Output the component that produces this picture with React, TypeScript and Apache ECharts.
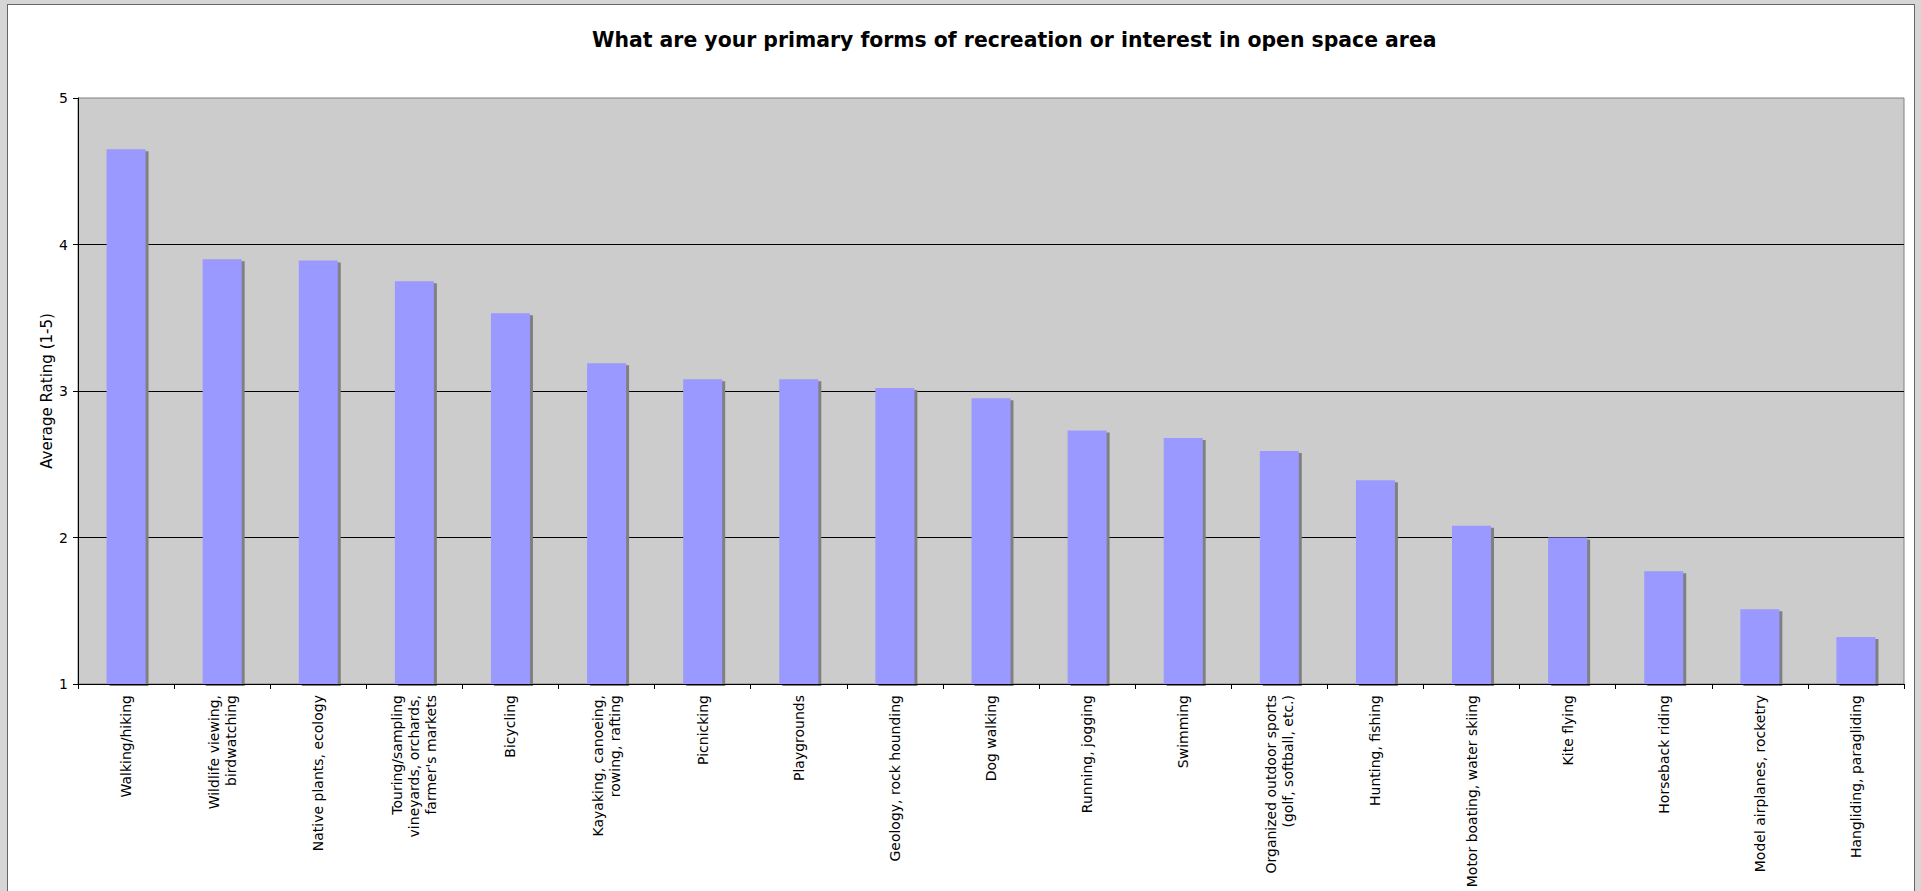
import React, { useEffect, useRef } from 'react';
import * as echarts from 'echarts';

const titleText = 'What are your primary forms of recreation or interest in open space area';
const yAxisName = 'Average Rating (1-5)';

const categories = [
  'Walking/hiking',
  'Wildlife viewing,\nbirdwatching',
  'Native plants, ecology',
  "Touring/sampling\nvineyards, orchards,\nfarmer's markets",
  'Bicycling',
  'Kayaking, canoeing,\nrowing, rafting',
  'Picnicking',
  'Playgrounds',
  'Geology, rock hounding',
  'Dog walking',
  'Running, jogging',
  'Swimming',
  'Organized outdoor sports\n(golf, softball, etc.)',
  'Hunting, fishing',
  'Motor boating, water skiing',
  'Kite flying',
  'Horseback riding',
  'Model airplanes, rocketry',
  'Hangliding, paragliding',
];

const ratings = [4.65, 3.9, 3.89, 3.75, 3.53, 3.19, 3.08, 3.08, 3.02, 2.95, 2.73, 2.68, 2.59, 2.39, 2.08, 2.0, 1.77, 1.51, 1.32];

const yMin = 1;
const yMax = 5;
const yStep = 1;

const FONT = 'DejaVu Sans';

export default function App() {
  const ref = useRef<HTMLDivElement>(null);

  useEffect(() => {
    if (!ref.current) return;
    const chart = echarts.init(ref.current, null, { renderer: 'svg' });
    chart.setOption({
      animation: false,
      backgroundColor: 'transparent',
      textStyle: { fontFamily: FONT },
      graphic: [
        {
          type: 'text',
          x: 592,
          y: 39.5,
          style: {
            text: titleText,
            font: `bold 20.4px "${FONT}"`,
            fill: '#000',
            align: 'left',
            verticalAlign: 'middle',
          },
        },
      ],
      grid: {
        left: 78,
        top: 98,
        width: 1826,
        height: 586,
        show: true,
        backgroundColor: '#cccccc',
        borderColor: '#808080',
        borderWidth: 1,
        containLabel: false,
      },
      xAxis: {
        type: 'category',
        data: categories,
        boundaryGap: true,
        z: 3,
        axisLine: { show: true, lineStyle: { color: '#000', width: 1 } },
        axisTick: { show: true, length: 5, alignWithLabel: false, lineStyle: { color: '#000' } },
        axisLabel: {
          interval: 0,
          rotate: 90,
          fontSize: 14,
          lineHeight: 17,
          color: '#000',
          fontFamily: FONT,
          margin: 11,
        },
        splitLine: { show: false },
      },
      yAxis: {
        type: 'value',
        min: yMin,
        max: yMax,
        interval: yStep,
        name: yAxisName,
        nameLocation: 'middle',
        nameGap: 24,
        nameMoveOverlap: false,
        nameRotate: 90,
        nameTextStyle: { fontSize: 15, color: '#000', fontFamily: FONT },
        axisLine: { show: true, lineStyle: { color: '#000', width: 1 } },
        axisTick: { show: true, length: 5, lineStyle: { color: '#000' } },
        axisLabel: { fontSize: 14, color: '#000', fontFamily: FONT, margin: 10 },
        splitLine: {
          show: true,
          showMinLine: false,
          showMaxLine: false,
          lineStyle: { color: '#000', width: 1 },
        },
      },
      series: [
        {
          type: 'bar',
          data: ratings,
          barWidth: 39,
          itemStyle: {
            color: '#9999ff',
            shadowColor: '#808080',
            shadowOffsetX: 3,
            shadowOffsetY: 2,
            shadowBlur: 0,
          },
        },
      ],
    });
    return () => chart.dispose();
  }, []);

  return (
    <div
      style={{
        position: 'fixed',
        left: 0,
        top: 0,
        width: 1921,
        height: 891,
        background: '#d6d6d6',
        overflow: 'hidden',
      }}
    >
      <div
        style={{
          position: 'absolute',
          left: 7,
          top: 4,
          width: 1908,
          height: 900,
          background: '#ffffff',
          border: '1px solid #666',
          boxSizing: 'border-box',
        }}
      />
      <div ref={ref} style={{ position: 'absolute', left: 0, top: 0, width: 1921, height: 891 }} />
    </div>
  );
}
